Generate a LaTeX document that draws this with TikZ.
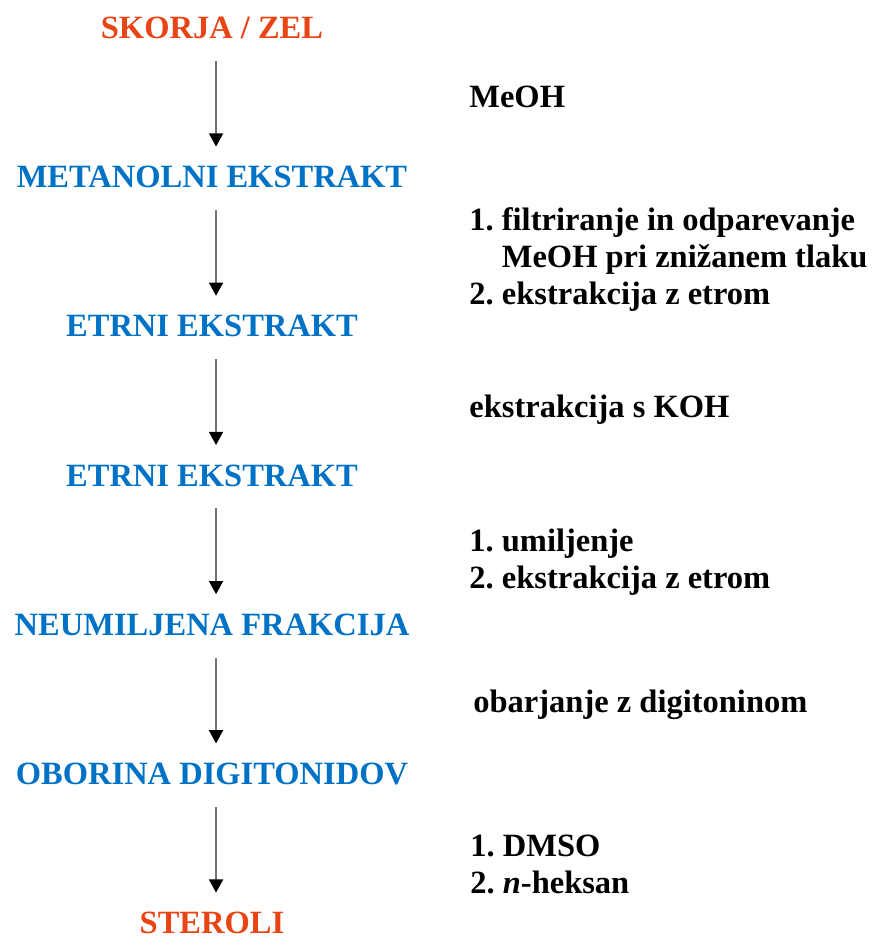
\documentclass[tikz,border=0pt]{standalone}
\usepackage{fontspec}
\setmainfont{Liberation Serif}
\usetikzlibrary{arrows.meta}
\frenchspacing

\definecolor{stepblue}{RGB}{0,114,198}
\definecolor{endred}{RGB}{232,68,20}

\tikzset{
    stage/.style={font=\bfseries\fontsize{18.5}{22}\selectfont, inner sep=0pt,
        text height=12.2pt, text depth=0pt, anchor=base},
    note/.style={font=\bfseries\fontsize{18.5}{21}\selectfont, inner sep=0pt,
        align=left, anchor=base west},
    flow/.style={draw=black!55, line width=0.8pt,
        -{Triangle[length=7.5pt, width=8pt, black]},
        shorten <=12.5pt, shorten >=11pt}
}

\begin{document}
\begin{tikzpicture}[x=0.02cm, y=-0.02cm]
    \def\gap{149.2}
    \def\firstBase{38.5}
    \def\midX{212}
    \def\noteX{469}

    \useasboundingbox (0,0) rectangle (882,937);

    % Stages
    \node[stage, text=endred] (s0) at (\midX, \firstBase) {SKORJA / ZEL};
    \foreach \i/\name in {1/METANOLNI EKSTRAKT, 2/ETRNI EKSTRAKT,
        3/ETRNI EKSTRAKT, 4/NEUMILJENA FRAKCIJA, 5/OBORINA DIGITONIDOV} {
        \node[stage, text=stepblue] (s\i) at (\midX, {\firstBase + \i*\gap}) {\name};
    }
    \node[stage, text=endred] (s6) at (\midX, {\firstBase + 6*\gap}) {STEROLI};

    % Arrows
    \foreach \i in {0,...,5} {
        \pgfmathtruncatemacro{\next}{\i + 1}
        \draw[flow] ([xshift=2.3pt]s\i.south) -- ([xshift=2.3pt]s\next.north);
    }

    % Steps (multi-line notes sit on their last baseline)
    \node[note] (n1) at (\noteX, 107) {MeOH};
    \node[note] (n2) at (\noteX, 304) {1. filtriranje in odparevanje\\
        \phantom{1.}\ MeOH pri znižanem tlaku\\
        2. ekstrakcija z etrom};
    \node[note] (n3) at (\noteX, 417) {ekstrakcija s KOH};
    \node[note] (n4) at (\noteX, 588) {1. umiljenje\\
        2. ekstrakcija z etrom};
    \node[note] (n5) at (473, 712) {obarjanje z digitoninom};
    \node[note] (n6) at (470, 893) {1. DMSO\\
        2. \textit{n}-heksan};
\end{tikzpicture}
\end{document}
